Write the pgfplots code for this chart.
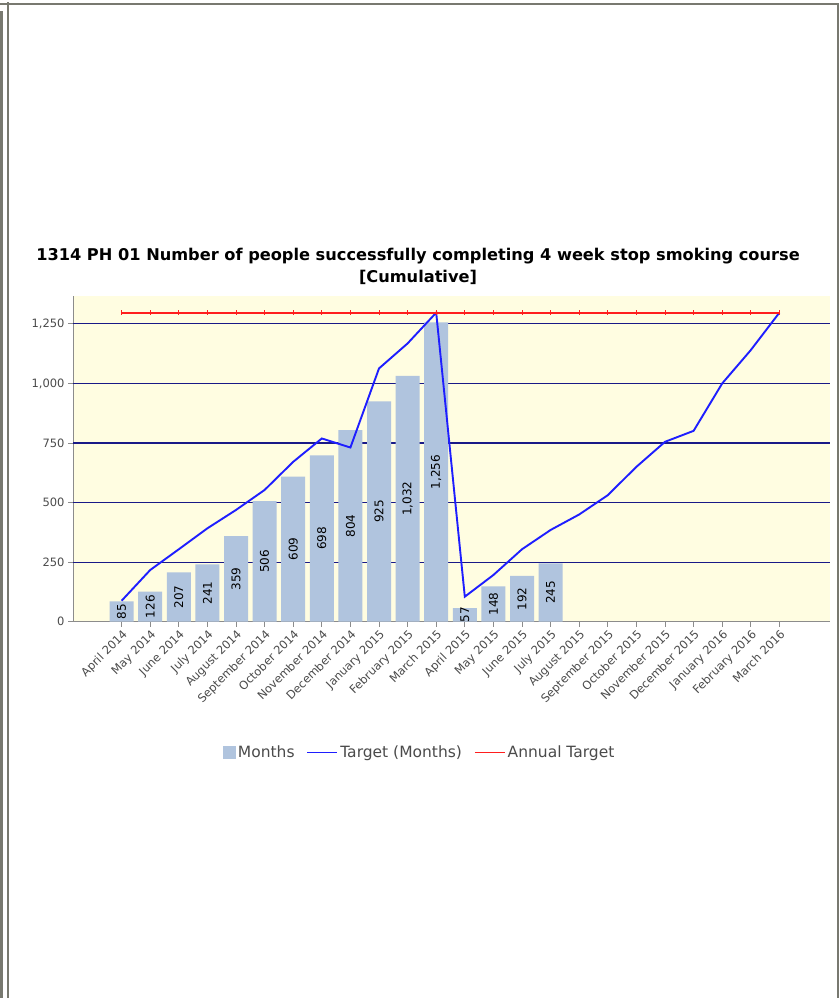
\documentclass[border=0pt]{standalone}
\usepackage{pgfplots}
\pgfplotsset{compat=1.18}
\usepackage{pgfplotstable}
\usepackage{fontspec}
\setmainfont{DejaVu Sans}
\definecolor{framegray}{RGB}{120,121,112}
\definecolor{plotbg}{RGB}{255,253,225}
\definecolor{gridnavy}{RGB}{25,25,135}
\definecolor{barblue}{RGB}{176,196,222}
\definecolor{lineblue}{RGB}{30,30,255}
\definecolor{linered}{RGB}{255,30,30}
\definecolor{axisgray}{RGB}{140,140,140}
\definecolor{labelgray}{RGB}{75,75,75}

\pgfplotstableread{
x v
0 85
1 126
2 207
3 241
4 359
5 506
6 609
7 698
8 804
9 925
10 1032
11 1256
12 57
13 148
14 192
15 245
}\bars

\pgfplotstableread{
x t
0 88
1 217
2 304
3 392
4 469
5 553
6 671
7 769
8 731
9 1063
10 1168
11 1297
12 105
13 196
14 304
15 385
16 450
17 531
18 650
19 755
20 801
21 1000
22 1140
23 1297
}\target

\pgfplotstableread{
x a
0 1297
1 1297
2 1297
3 1297
4 1297
5 1297
6 1297
7 1297
8 1297
9 1297
10 1297
11 1297
12 1297
13 1297
14 1297
15 1297
16 1297
17 1297
18 1297
19 1297
20 1297
21 1297
22 1297
23 1297
}\annual

\begin{document}
\begin{tikzpicture}
\useasboundingbox (0pt,0pt) rectangle (839pt,998pt);
\fill[white] (0pt,0pt) rectangle (839pt,998pt);
\draw[framegray, line width=1.7pt] (0pt,993.8pt) -- (839pt,993.8pt);
\draw[framegray, line width=2.7pt] (1.35pt,0pt) -- (1.35pt,987pt);
\draw[framegray, line width=2.6pt] (8pt,0pt) -- (8pt,996pt);
\draw[framegray, line width=1.5pt] (838.2pt,0pt) -- (838.2pt,994.5pt);
\node[font=\bfseries\fontsize{16.2}{19}\selectfont] at (418pt,742pt) {1314 PH 01 Number of people successfully completing 4 week stop smoking course};
\node[font=\bfseries\fontsize{16.2}{19}\selectfont] at (418pt,721pt) {[Cumulative]};
\begin{axis}[
  at={(73pt,376.3pt)}, anchor=south west,
  scale only axis, width=757pt, height=325.7pt,
  xmin=-1.7, xmax=24.77, ymin=0, ymax=1367,
  axis x line*=bottom, axis y line*=left,
  axis line style={axisgray, -, line width=1pt},
  axis background/.style={fill=plotbg},
  xtick={0,...,23},
  xticklabels={April 2014,May 2014,June 2014,July 2014,August 2014,September 2014,October 2014,November 2014,December 2014,January 2015,February 2015,March 2015,April 2015,May 2015,June 2015,July 2015,August 2015,September 2015,October 2015,November 2015,December 2015,January 2016,February 2016,March 2016},
  ytick={0,250,...,1250},
  extra y ticks={250,500,750,1000,1250},
  extra y tick labels={},
  extra y tick style={grid=major, major tick length=0pt},
  grid style={gridnavy, line width=1.15pt},
  tick align=outside, major tick length=5pt,
  tick style={axisgray, line width=0.9pt},
  x tick label style={rotate=45, anchor=north east, font=\fontsize{11.5}{13}\selectfont, text=labelgray, inner sep=1.5pt},
  y tick label style={font=\fontsize{11.5}{13}\selectfont, text=labelgray},
  /pgf/number format/assume math mode=true,
  legend columns=3,
  legend style={at={(0.458,-0.402)}, anchor=center, draw=none, fill=none,
    font=\fontsize{15.5}{18}\selectfont, text=labelgray,
    /tikz/every even column/.append style={column sep=10pt}},
]
\addplot[fill=barblue, draw=none, ybar, bar width=24pt,
  legend image code/.code={\fill[barblue] (0pt,-6.5pt) rectangle (13pt,6.5pt);}]
  table[x=x,y=v]{\bars};
\addlegendentry{Months}
\addplot[draw=none, mark=none, forget plot, nodes near coords,
  point meta=\thisrow{v},
  every node near coord/.append style={rotate=90, anchor=center, font=\fontsize{12}{14}\selectfont, text=black}]
  table[x=x, y expr=\thisrow{v}/2]{\bars};
\addplot[lineblue, line width=1.9pt, mark=none,
  legend image code/.code={\draw[lineblue, line width=1.7pt] (0pt,0pt) -- (30pt,0pt);}]
  table[x=x,y=t]{\target};
\addlegendentry{Target (Months)}
\addplot[linered, line width=1.9pt, mark=|, mark size=2.5pt, mark options={line width=0.7pt},
  legend image code/.code={\draw[linered, line width=1.7pt] (0pt,0pt) -- (30pt,0pt);}]
  table[x=x,y=a]{\annual};
\addlegendentry{Annual Target}
\end{axis}
\end{tikzpicture}
\end{document}
